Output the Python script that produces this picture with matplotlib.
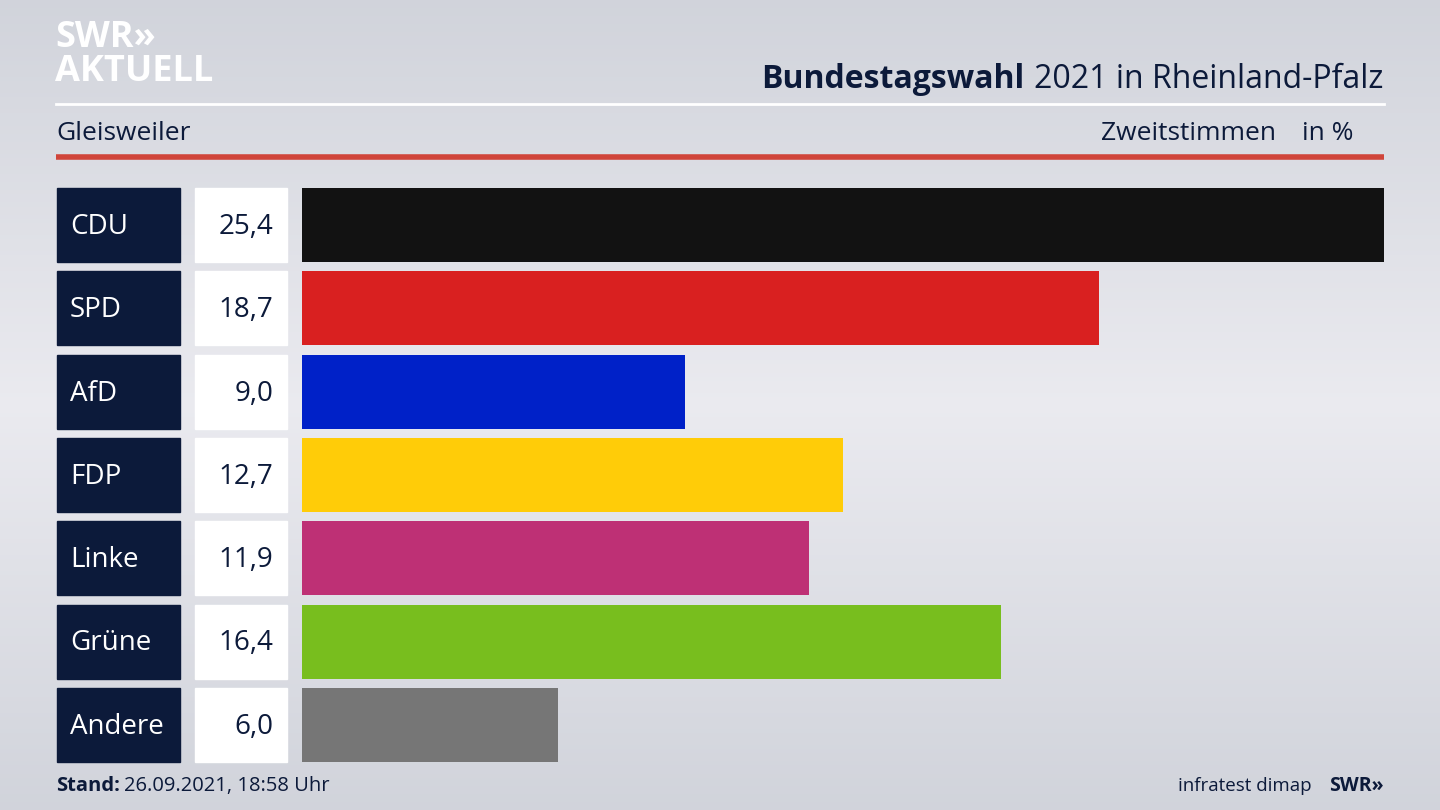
import numpy as np
import matplotlib
matplotlib.use('Agg')
import matplotlib.pyplot as plt
from matplotlib.patches import Rectangle

parties = ['CDU', 'SPD', 'AfD', 'FDP', 'Linke', 'Grüne', 'Andere']
values = [25.4, 18.7, 9.0, 12.7, 11.9, 16.4, 6.0]
colors = ['#121212', '#d92020', '#0021c8', '#ffcc08', '#be3075', '#78be1e', '#767676']

NAVY = '#0c1a3a'
plt.rcParams['font.family'] = 'Open Sans'

W, H = 1440, 810
fig = plt.figure(figsize=(14.4, 8.1), dpi=100)

# background + decorations in pixel coordinates
bg = fig.add_axes([0, 0, 1, 1])
bg.set_xlim(0, W)
bg.set_ylim(H, 0)
bg.axis('off')
yy = np.linspace(0, 1, 200)
grad = 1 - np.clip(np.abs(yy - 0.5) / 0.5, 0, 1)
c0 = np.array([0.82, 0.83, 0.86])
c1 = np.array([0.92, 0.92, 0.94])
img = c0[None, :] + (c1 - c0)[None, :] * grad[:, None]
bg.imshow(img[:, None, :], extent=[0, W, H, 0], aspect='auto')

bg.text(55, 38, 'SWR»', color='white', fontsize=26, fontweight='bold', va='center')
bg.text(55, 72, 'AKTUELL', color='white', fontsize=26, fontweight='bold', va='center')

t_reg = bg.text(1383, 80, '2021 in Rheinland-Pfalz', color=NAVY, fontsize=23,
                va='center', ha='right')
fig.canvas.draw()
wpx = t_reg.get_window_extent().width
bg.text(1383 - wpx - 9, 80, 'Bundestagswahl', color=NAVY, fontsize=23,
        fontweight='bold', va='center', ha='right')

bg.plot([56, 1384], [104, 104], color='white', lw=2)
bg.text(56, 134, 'Gleisweiler', color=NAVY, fontsize=19, va='center')
bg.text(1276, 134, 'Zweitstimmen', color=NAVY, fontsize=19, va='center', ha='right')
bg.text(1354, 134, 'in %', color=NAVY, fontsize=19, va='center', ha='right')
bg.plot([56, 1384], [157, 157], color='#d0453a', lw=4, solid_capstyle='butt')
bg.text(56, 786, 'Stand:', color=NAVY, fontsize=14.5, fontweight='bold', va='center')
bg.text(124, 786, '26.09.2021, 18:58 Uhr', color=NAVY, fontsize=14.5, va='center')
bg.text(1312, 786, 'infratest dimap', color=NAVY, fontsize=13.5, va='center', ha='right')
bg.text(1384, 786, 'SWR»', color=NAVY, fontsize=14, fontweight='bold', va='center', ha='right')

# bars
top, bottom = 188, 762
ax = fig.add_axes([302 / W, 1 - bottom / H, (1384 - 302) / W, (bottom - top) / H])
ax.patch.set_alpha(0)
ax.axis('off')
ax.set_xlim(0, max(values))
ax.set_ylim(6.445, -0.445)
y = np.arange(len(parties))
ax.barh(y, values, height=0.89, color=colors)

for i, (p, v) in enumerate(zip(parties, values)):
    cy = 225 + 83.3 * i
    bg.add_patch(Rectangle((57, cy - 37), 123, 74, color=NAVY, zorder=2))
    bg.add_patch(Rectangle((195, cy - 37), 92, 74, color='white', zorder=2))
    bg.text(70, cy + 2, p, color='white', fontsize=20, va='center', zorder=3)
    bg.text(273, cy + 2, f'{v:.1f}'.replace('.', ','), color=NAVY, fontsize=20,
            va='center', ha='right', zorder=3)

fig.savefig('out.png', dpi=100)
